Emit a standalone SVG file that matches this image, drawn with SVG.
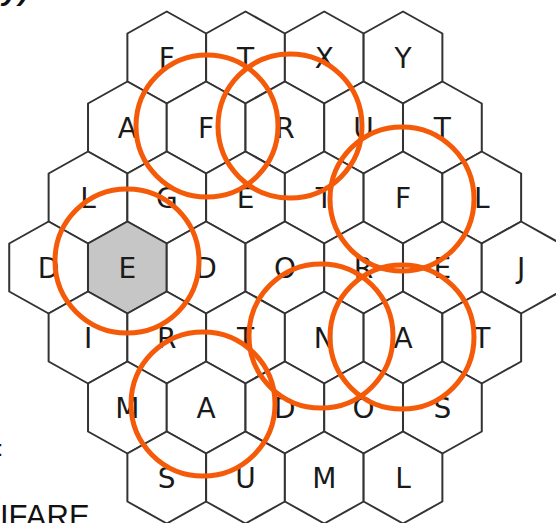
<svg xmlns="http://www.w3.org/2000/svg" xmlns:xlink="http://www.w3.org/1999/xlink" width="556" height="523" viewBox="0 0 556 523">
<style>
.hx{fill:#fff;stroke:#333;stroke-width:2;stroke-linejoin:round}
.sel{fill:#c6c6c6}
.lt{font-family:"DejaVu Sans","Liberation Sans",sans-serif;font-size:28px;fill:#1a1a1a;text-anchor:middle}
.ring{fill:none;stroke:#f45a08;stroke-width:5}
.edge{font-family:"Liberation Sans",Arial,sans-serif;fill:#111}
</style>
<defs>
<polygon id="hex" points="0,-46 39.375,-24 39.375,24 0,46 -39.375,24 -39.375,-24"/>
</defs>
<rect width="556" height="523" fill="#fff"/>
<text class="edge" x="2" y="0" font-size="30" font-weight="bold" font-style="italic">y)</text>
<text class="edge" x="-3" y="456" font-size="22">:</text>
<text class="edge" x="0" y="527" font-size="31">IFARE</text>
<g id="grid">
<g id="r1c1" transform="translate(166.75,57.5)"><use href="#hex" class="hx"/><text class="lt" y="10">F</text></g>
<g id="r1c2" transform="translate(245.5,57.5)"><use href="#hex" class="hx"/><text class="lt" y="10">T</text></g>
<g id="r1c3" transform="translate(324.25,57.5)"><use href="#hex" class="hx"/><text class="lt" y="10">X</text></g>
<g id="r1c4" transform="translate(403,57.5)"><use href="#hex" class="hx"/><text class="lt" y="10">Y</text></g>
<g id="r2c1" transform="translate(127.4,127.5)"><use href="#hex" class="hx"/><text class="lt" y="10">A</text></g>
<g id="r2c2" transform="translate(206.1,127.5)"><use href="#hex" class="hx"/><text class="lt" y="10">F</text></g>
<g id="r2c3" transform="translate(284.9,127.5)"><use href="#hex" class="hx"/><text class="lt" y="10">R</text></g>
<g id="r2c4" transform="translate(363.6,127.5)"><use href="#hex" class="hx"/><text class="lt" y="10">U</text></g>
<g id="r2c5" transform="translate(442.4,127.5)"><use href="#hex" class="hx"/><text class="lt" y="10">T</text></g>
<g id="r3c1" transform="translate(88,197.5)"><use href="#hex" class="hx"/><text class="lt" y="10">L</text></g>
<g id="r3c2" transform="translate(166.75,197.5)"><use href="#hex" class="hx"/><text class="lt" y="10">G</text></g>
<g id="r3c3" transform="translate(245.5,197.5)"><use href="#hex" class="hx"/><text class="lt" y="10">E</text></g>
<g id="r3c4" transform="translate(324.25,197.5)"><use href="#hex" class="hx"/><text class="lt" y="10">T</text></g>
<g id="r3c5" transform="translate(403,197.5)"><use href="#hex" class="hx"/><text class="lt" y="10">F</text></g>
<g id="r3c6" transform="translate(481.75,197.5)"><use href="#hex" class="hx"/><text class="lt" y="10">L</text></g>
<g id="r4c1" transform="translate(48.6,267.5)"><use href="#hex" class="hx"/><text class="lt" y="10">D</text></g>
<g id="r4c2" transform="translate(127.4,267.5)"><use href="#hex" class="hx sel"/><text class="lt" y="10">E</text></g>
<g id="r4c3" transform="translate(206.1,267.5)"><use href="#hex" class="hx"/><text class="lt" y="10">D</text></g>
<g id="r4c4" transform="translate(284.9,267.5)"><use href="#hex" class="hx"/><text class="lt" y="10">O</text></g>
<g id="r4c5" transform="translate(363.6,267.5)"><use href="#hex" class="hx"/><text class="lt" y="10">R</text></g>
<g id="r4c6" transform="translate(442.4,267.5)"><use href="#hex" class="hx"/><text class="lt" y="10">E</text></g>
<g id="r4c7" transform="translate(521.1,267.5)"><use href="#hex" class="hx"/><text class="lt" y="10">J</text></g>
<g id="r5c1" transform="translate(88,337.5)"><use href="#hex" class="hx"/><text class="lt" y="10">I</text></g>
<g id="r5c2" transform="translate(166.75,337.5)"><use href="#hex" class="hx"/><text class="lt" y="10">R</text></g>
<g id="r5c3" transform="translate(245.5,337.5)"><use href="#hex" class="hx"/><text class="lt" y="10">T</text></g>
<g id="r5c4" transform="translate(324.25,337.5)"><use href="#hex" class="hx"/><text class="lt" y="10">N</text></g>
<g id="r5c5" transform="translate(403,337.5)"><use href="#hex" class="hx"/><text class="lt" y="10">A</text></g>
<g id="r5c6" transform="translate(481.75,337.5)"><use href="#hex" class="hx"/><text class="lt" y="10">T</text></g>
<g id="r6c1" transform="translate(127.4,407.5)"><use href="#hex" class="hx"/><text class="lt" y="10">M</text></g>
<g id="r6c2" transform="translate(206.1,407.5)"><use href="#hex" class="hx"/><text class="lt" y="10">A</text></g>
<g id="r6c3" transform="translate(284.9,407.5)"><use href="#hex" class="hx"/><text class="lt" y="10">D</text></g>
<g id="r6c4" transform="translate(363.6,407.5)"><use href="#hex" class="hx"/><text class="lt" y="10">O</text></g>
<g id="r6c5" transform="translate(442.4,407.5)"><use href="#hex" class="hx"/><text class="lt" y="10">S</text></g>
<g id="r7c1" transform="translate(166.75,477.5)"><use href="#hex" class="hx"/><text class="lt" y="10">S</text></g>
<g id="r7c2" transform="translate(245.5,477.5)"><use href="#hex" class="hx"/><text class="lt" y="10">U</text></g>
<g id="r7c3" transform="translate(324.25,477.5)"><use href="#hex" class="hx"/><text class="lt" y="10">M</text></g>
<g id="r7c4" transform="translate(403,477.5)"><use href="#hex" class="hx"/><text class="lt" y="10">L</text></g>
</g>
<g id="circles">
<circle class="ring" cx="207" cy="126" r="71"/>
<circle class="ring" cx="290" cy="126" r="72"/>
<circle class="ring" cx="402" cy="199" r="72"/>
<circle class="ring" cx="127" cy="261" r="72"/>
<circle class="ring" cx="321" cy="336" r="72"/>
<circle class="ring" cx="402" cy="337" r="72"/>
<circle class="ring" cx="203" cy="404" r="72"/>
</g>
</svg>
